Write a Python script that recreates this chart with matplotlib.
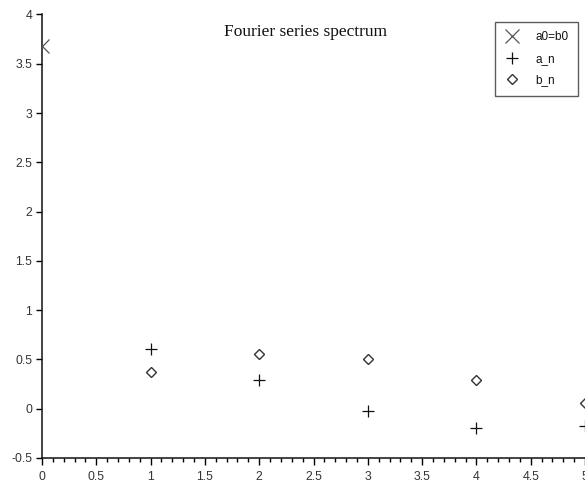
import matplotlib
matplotlib.use("Agg")
import matplotlib.pyplot as plt
from matplotlib.ticker import MultipleLocator, FuncFormatter

plt.rcParams['font.family'] = ['Liberation Sans', 'DejaVu Sans']

n0 = [0]
a0 = [3.68]
n = [1, 2, 3, 4, 5]
a_n = [0.61, 0.295, -0.025, -0.195, -0.18]
b_n = [0.37, 0.56, 0.505, 0.29, 0.055]

W, H = 585, 484
fig = plt.figure(figsize=(W / 100, H / 100), dpi=100)
ax = fig.add_axes([42 / W, 1 - 458 / H, 1 - 42 / W, (458 - 14.5) / H])
ax.plot(n0, a0, linestyle='none', marker='x', ms=9.5, mew=0.9, color='#555555', label='a0=b0', zorder=5)
ax.plot(n, a_n, linestyle='none', marker='+', ms=8, mew=0.9, color='#111111', label='a_n', zorder=5)
ax.plot(n, b_n, linestyle='none', marker='D', ms=5.6, mew=1.0, mfc='none', mec='#333333', label='b_n', zorder=5)

ax.set_xlim(0, 5)
ax.set_ylim(-0.5, 4)
ax.xaxis.set_major_locator(MultipleLocator(0.5))
ax.xaxis.set_minor_locator(MultipleLocator(0.1))
ax.yaxis.set_major_locator(MultipleLocator(0.5))
ax.xaxis.set_major_formatter(FuncFormatter(lambda v, p: f'{v:g}'))
ax.yaxis.set_major_formatter(FuncFormatter(lambda v, p: f'{v:g}'))
ax.spines['top'].set_visible(False)
ax.spines['right'].set_visible(False)
for s in ('left', 'bottom'):
    ax.spines[s].set_linewidth(1.1)
    ax.spines[s].set_color('#111111')
ax.tick_params(axis='y', which='major', direction='out', length=4.5, width=1, labelsize=8.8, pad=2.5,
               labelcolor='#333333')
ax.tick_params(axis='x', which='major', direction='out', length=5, width=1, labelsize=8.8, pad=4,
               labelcolor='#333333')
ax.tick_params(axis='x', which='minor', direction='out', length=3, width=1)

fig.text(305.5 / W, 1 - 32 / H, 'Fourier series spectrum', fontfamily='Liberation Serif', fontsize=12.5,
         ha='center', va='center', color='#111111')

leg = ax.legend(loc='upper right', bbox_to_anchor=(578 / W, 1 - 22 / H), bbox_transform=fig.transFigure,
                borderaxespad=0, frameon=True, fancybox=False, edgecolor='#333333',
                handletextpad=1.4, borderpad=0.8, labelspacing=0.8, handlelength=1.2,
                prop={'family': 'Liberation Sans', 'size': 8.5})
leg.get_frame().set_linewidth(1.0)
for t in leg.get_texts():
    t.set_color('#111111')

fig.savefig('out.png', dpi=100)
